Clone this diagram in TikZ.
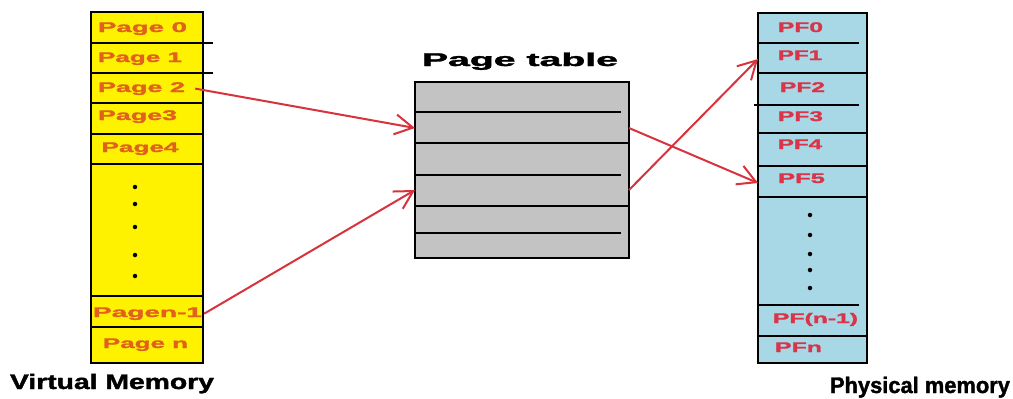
\documentclass[tikz,border=0pt]{standalone}
\usepackage{fontspec}
\setmainfont{Liberation Sans}[BoldFeatures={FakeBold=1.5}]
\usepackage{graphicx}
\usetikzlibrary{arrows.meta}
\definecolor{vyellow}{HTML}{FFF200}
\definecolor{pblue}{HTML}{A8D8E6}
\definecolor{tgray}{HTML}{C3C3C3}
\definecolor{pagetxt}{HTML}{E0601C}
\definecolor{pftxt}{HTML}{D93448}
\definecolor{arr}{HTML}{D8323C}
\newcommand{\fitw}[2]{\resizebox{#1pt}{\height}{#2}}
\begin{document}
\begin{tikzpicture}[x=1pt,y=-1pt,
  lbl/.style={inner sep=0pt, anchor=base, font=\fontsize{14}{14}\selectfont\bfseries, text=pagetxt},
  pflbl/.style={lbl, text=pftxt},
  title/.style={inner sep=0pt, anchor=base, font=\fontsize{21}{21}\selectfont\bfseries, text=black},
  sep/.style={line width=2.2pt, line cap=rect},
  membox/.style={draw=black, line width=2.6pt, inner sep=0pt, outer sep=0pt},
  cellbox/.style={inner sep=0pt, outer sep=0pt, minimum width=#1, minimum height=30pt},
  link/.style={draw=arr, line width=2pt, -{Straight Barb[length=18pt,width=20pt,line width=2pt]}},
  dot/.style={circle, fill=black, inner sep=0pt, minimum size=4.5pt}
]
\useasboundingbox (0,0) rectangle (1013,399);
\fill[white] (0,0) rectangle (1013,399);

% ---------- Virtual memory ----------
\node[membox, fill=vyellow, minimum width=112pt, minimum height=351pt] (vm) at (147,187.5) {};
\draw[sep] (vm.west |- 0,43) -- (212,43);
\draw[sep] (vm.west |- 0,73) -- (212,73);
\foreach \yy in {103,134,164,296,327} \draw[sep] (vm.west |- 0,\yy) -- (vm.east |- 0,\yy);
\node[lbl] (p0) at (142.5,32) {\fitw{89}{Page 0}};
\node[lbl] (p1) at (140,62) {\fitw{84}{Page 1}};
\node[lbl] (p2) at (141.5,92) {\fitw{87}{Page 2}};
\node[lbl] (p3) at (137.5,120) {\fitw{79}{Page3}};
\node[lbl] (p4) at (140,152) {\fitw{77}{Page4}};
\node[lbl] (pn1) at (147.5,317) {\fitw{109}{Pagen-1}};
\node[lbl] (pn) at (145.5,348) {\fitw{85}{Page n}};
\foreach \yy [count=\i] in {187,204,227,255,276} \node[dot] (vd\i) at (135,\yy) {};
\node[title] (vmt) at (112,389) {\fitw{204}{Virtual Memory}};

% ---------- Page table ----------
\node[membox, fill=tgray, minimum width=214pt, minimum height=176pt] (pt) at (522,170) {};
\draw[sep] (pt.west |- 0,112) -- (620,112);
\draw[sep] (pt.west |- 0,143) -- (pt.east |- 0,143);
\draw[sep] (pt.west |- 0,175) -- (620,175);
\draw[sep] (pt.west |- 0,206) -- (pt.east |- 0,206);
\draw[sep] (pt.west |- 0,233) -- (620,233);
\node[cellbox=214pt] (r2) at (522,128) {};
\node[cellbox=214pt] (r4) at (522,190) {};
\node[title, font=\fontsize{18.5}{18.5}\selectfont\bfseries] (ptt) at (520,66) {\fitw{196}{Page table}};

% ---------- Physical memory ----------
\node[membox, fill=pblue, minimum width=109pt, minimum height=350pt] (pm) at (812.5,188) {};
\draw[sep] (pm.west |- 0,43) -- (858,43);
\draw[sep] (pm.west |- 0,73) -- (pm.east |- 0,73);
\draw[sep] (755,105) -- (858,105);
\foreach \yy in {133,166,197,336} \draw[sep] (pm.west |- 0,\yy) -- (pm.east |- 0,\yy);
\draw[sep] (pm.west |- 0,305) -- (858,305);
\node[cellbox=109pt] (pf1c) at (812.5,59) {};
\node[cellbox=109pt] (pf5c) at (812.5,183) {};
\node[pflbl] (pf0) at (800.5,32) {\fitw{45}{PF0}};
\node[pflbl] (pf1) at (800,60) {\fitw{44}{PF1}};
\node[pflbl] (pf2) at (802.5,92) {\fitw{45}{PF2}};
\node[pflbl] (pf3) at (800.5,121) {\fitw{45}{PF3}};
\node[pflbl] (pf4) at (800,149) {\fitw{44}{PF4}};
\node[pflbl] (pf5) at (801.5,183) {\fitw{47}{PF5}};
\node[pflbl] (pfn1) at (815.5,323) {\fitw{85}{PF(n-1)}};
\node[pflbl] (pfn) at (798.5,352) {\fitw{47}{PFn}};
\foreach \yy [count=\i] in {215,235,254,270,288} \node[dot] (pd\i) at (810,\yy) {};
\node[title, font=\fontsize{22.5}{22.5}\selectfont\bfseries] (pmt) at (920,393) {\fitw{180}{Physical memory}};

% ---------- Connectors ----------
\draw[link] ([xshift=10pt]p2.east) -- (r2.west);
\draw[link] ([xshift=2pt]pn1.east) -- (r4.west);
\draw[link] (r2.east) -- (pf5c.west);
\draw[link] (r4.east) -- (pf1c.west);
\end{tikzpicture}
\end{document}
